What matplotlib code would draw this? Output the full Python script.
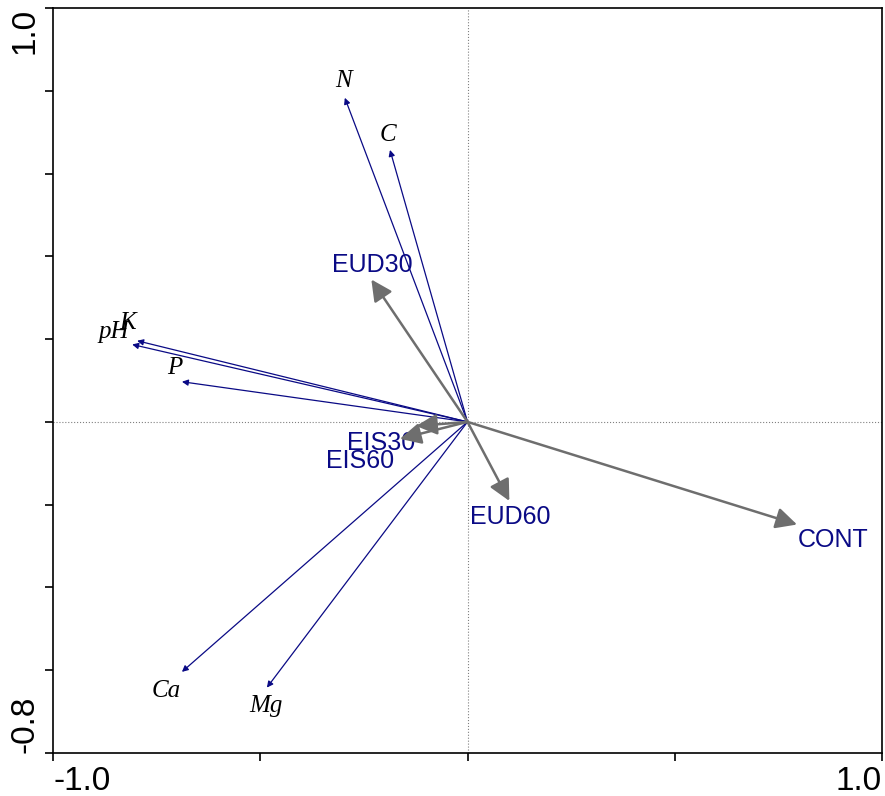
import matplotlib.pyplot as plt

# species-like arrows (soil variables)
var_names = ['N', 'C', 'K', 'pH', 'P', 'Ca', 'Mg']
var_x = [-0.296, -0.187, -0.797, -0.809, -0.689, -0.689, -0.484]
var_y = [0.783, 0.657, 0.196, 0.187, 0.097, -0.604, -0.642]
var_lab_x = [-0.300, -0.192, -0.821, -0.853, -0.706, -0.727, -0.486]
var_lab_y = [0.824, 0.693, 0.238, 0.218, 0.131, -0.650, -0.686]

# treatment arrows
trt_names = ['EUD30', 'EIS30', 'EIS60', 'EUD60', 'CONT']
trt_x = [-0.232, -0.124, -0.163, 0.101, 0.795]
trt_y = [0.344, -0.010, -0.041, -0.191, -0.248]
trt_lab_x = [-0.230, -0.209, -0.259, 0.103, 0.882]
trt_lab_y = [0.378, -0.051, -0.095, -0.230, -0.286]

navy = '#0a0a85'
grey = '#6e6e6e'

fig = plt.figure(figsize=(8.85, 7.96), dpi=100)
ax = fig.add_axes([0.0599, 0.054, 0.9367, 0.936])

ax.axhline(0, color='#808080', lw=0.8, ls=':', zorder=0)
ax.axvline(0, color='#808080', lw=0.8, ls=':', zorder=0)

for name, x, y, lx, ly in zip(var_names, var_x, var_y, var_lab_x, var_lab_y):
    ax.annotate('', xy=(x, y), xytext=(0, 0),
                arrowprops=dict(arrowstyle='-|>', color=navy, lw=0.9,
                                mutation_scale=9, shrinkA=0, shrinkB=0))
    ax.text(lx, ly, name, family='Liberation Serif', style='italic',
            fontsize=18, ha='center', va='center', color='black')

for name, x, y, lx, ly in zip(trt_names, trt_x, trt_y, trt_lab_x, trt_lab_y):
    ax.annotate('', xy=(x, y), xytext=(0, 0),
                arrowprops=dict(arrowstyle='-|>,head_length=0.8,head_width=0.4',
                                color=grey, lw=1.8,
                                mutation_scale=16, shrinkA=0, shrinkB=0))
    ax.text(lx, ly, name, family='Liberation Sans', fontsize=18,
            ha='center', va='center', color=navy)

ax.set_xlim(-1.0, 1.0)
ax.set_ylim(-0.8, 1.0)
ax.set_xticks([-1.0, -0.5, 0.0, 0.5, 1.0])
ax.set_xticklabels(['-1.0', '', '', '', '1.0'])
yt = [-0.8, -0.6, -0.4, -0.2, 0.0, 0.2, 0.4, 0.6, 0.8, 1.0]
ax.set_yticks(yt)
ax.set_yticklabels(['-0.8'] + [''] * 8 + ['1.0'], rotation=90)
ax.tick_params(direction='out', length=6, width=1.2, labelsize=24, pad=3)
xl = ax.get_xticklabels()
xl[0].set_ha('left')
xl[-1].set_ha('right')
yl = ax.get_yticklabels()
yl[0].set_va('bottom')
yl[-1].set_va('top')
for lab in xl + yl:
    lab.set_family('Liberation Sans')
for s in ax.spines.values():
    s.set_linewidth(1.2)

fig.savefig('out.png', dpi=100)
